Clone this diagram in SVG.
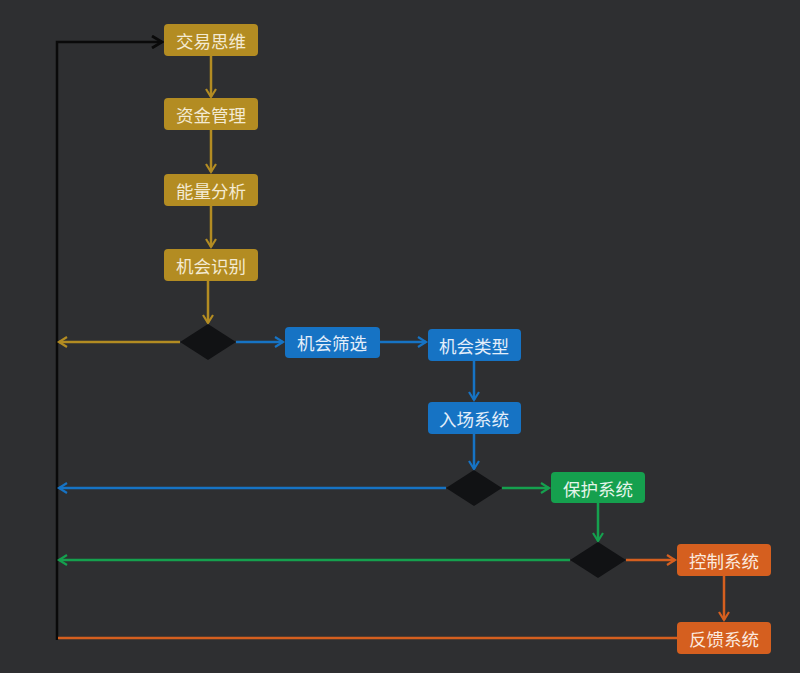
<svg xmlns="http://www.w3.org/2000/svg" width="800" height="673" viewBox="0 0 800 673">
<defs>
<style>
.t{font-family:"Noto Sans CJK SC","Noto Sans",sans-serif;font-size:17.5px;text-anchor:middle;dominant-baseline:central}
.g rect{fill:#b38c22}
.g text{fill:#f3ead2}
.b rect{fill:#1673c4}
.b text{fill:#e3eefa}
.gr rect{fill:#15a04e}
.gr text{fill:#e4f5ea}
.o rect{fill:#d55f1f}
.o text{fill:#fbe9de}
.dia{fill:#111214}
.c{fill:none;stroke-width:2.5}
</style>
<marker id="ag" markerWidth="12" markerHeight="12" refX="9" refY="6" orient="auto" markerUnits="userSpaceOnUse"><path d="M1,1 L9,6 L1,11" fill="none" stroke="#b38c22" stroke-width="2.2"/></marker>
<marker id="ab" markerWidth="12" markerHeight="12" refX="9" refY="6" orient="auto" markerUnits="userSpaceOnUse"><path d="M1,1 L9,6 L1,11" fill="none" stroke="#1673c4" stroke-width="2.2"/></marker>
<marker id="agr" markerWidth="12" markerHeight="12" refX="9" refY="6" orient="auto" markerUnits="userSpaceOnUse"><path d="M1,1 L9,6 L1,11" fill="none" stroke="#15a04e" stroke-width="2.2"/></marker>
<marker id="ao" markerWidth="12" markerHeight="12" refX="9" refY="6" orient="auto" markerUnits="userSpaceOnUse"><path d="M1,1 L9,6 L1,11" fill="none" stroke="#d55f1f" stroke-width="2.2"/></marker>
<marker id="ak" markerWidth="14" markerHeight="14" refX="11" refY="7" orient="auto" markerUnits="userSpaceOnUse"><path d="M1,1 L11,7 L1,13" fill="none" stroke="#0a0a0a" stroke-width="2.8"/></marker>
</defs>
<rect width="800" height="673" fill="#2e2f31"/>
<g id="connectors">
<path class="c" stroke="#0a0a0a" stroke-width="3" d="M57,640 V42 H162" marker-end="url(#ak)"/>
<path class="c" stroke="#b38c22" d="M211,56 V97" marker-end="url(#ag)"/>
<path class="c" stroke="#b38c22" d="M211,130 V172" marker-end="url(#ag)"/>
<path class="c" stroke="#b38c22" d="M211,206 V247" marker-end="url(#ag)"/>
<path class="c" stroke="#b38c22" d="M208,281 V323" marker-end="url(#ag)"/>
<path class="c" stroke="#b38c22" d="M180,342 H59" marker-end="url(#ag)"/>
<path class="c" stroke="#1673c4" d="M236,342 H283" marker-end="url(#ab)"/>
<path class="c" stroke="#1673c4" d="M380,342 H426" marker-end="url(#ab)"/>
<path class="c" stroke="#1673c4" d="M474,361 V400" marker-end="url(#ab)"/>
<path class="c" stroke="#1673c4" d="M474,434 V469" marker-end="url(#ab)"/>
<path class="c" stroke="#1673c4" d="M446,488 H59" marker-end="url(#ab)"/>
<path class="c" stroke="#15a04e" d="M502,488 H549" marker-end="url(#agr)"/>
<path class="c" stroke="#15a04e" d="M598,503 V541" marker-end="url(#agr)"/>
<path class="c" stroke="#15a04e" d="M570,560 H59" marker-end="url(#agr)"/>
<path class="c" stroke="#d55f1f" d="M626,560 H675" marker-end="url(#ao)"/>
<path class="c" stroke="#d55f1f" d="M724,576 V620" marker-end="url(#ao)"/>
<path class="c" stroke="#d55f1f" d="M677,638 H58"/>
</g>
<g id="n1" class="g"><rect x="164" y="24" width="94" height="32" rx="4"/><text class="t" x="211" y="40">交易思维</text></g>
<g id="n2" class="g"><rect x="164" y="98" width="94" height="32" rx="4"/><text class="t" x="211" y="114">资金管理</text></g>
<g id="n3" class="g"><rect x="164" y="174" width="94" height="32" rx="4"/><text class="t" x="211" y="190">能量分析</text></g>
<g id="n4" class="g"><rect x="164" y="249" width="94" height="32" rx="4"/><text class="t" x="211" y="265">机会识别</text></g>
<g id="d1"><path class="dia" d="M208,324 L236,342 L208,360 L180,342 Z"/></g>
<g id="n5" class="b"><rect x="285" y="327" width="95" height="31" rx="4"/><text class="t" x="332" y="342">机会筛选</text></g>
<g id="n6" class="b"><rect x="428" y="329" width="93" height="32" rx="4"/><text class="t" x="474" y="345">机会类型</text></g>
<g id="n7" class="b"><rect x="428" y="402" width="93" height="32" rx="4"/><text class="t" x="474" y="418">入场系统</text></g>
<g id="d2"><path class="dia" d="M474,470 L502,488 L474,506 L446,488 Z"/></g>
<g id="n8" class="gr"><rect x="551" y="472" width="94" height="31" rx="4"/><text class="t" x="598" y="488">保护系统</text></g>
<g id="d3"><path class="dia" d="M598,542 L626,560 L598,578 L570,560 Z"/></g>
<g id="n9" class="o"><rect x="677" y="544" width="94" height="32" rx="4"/><text class="t" x="724" y="560">控制系统</text></g>
<g id="n10" class="o"><rect x="677" y="622" width="94" height="32" rx="4"/><text class="t" x="724" y="638">反馈系统</text></g>
</svg>
